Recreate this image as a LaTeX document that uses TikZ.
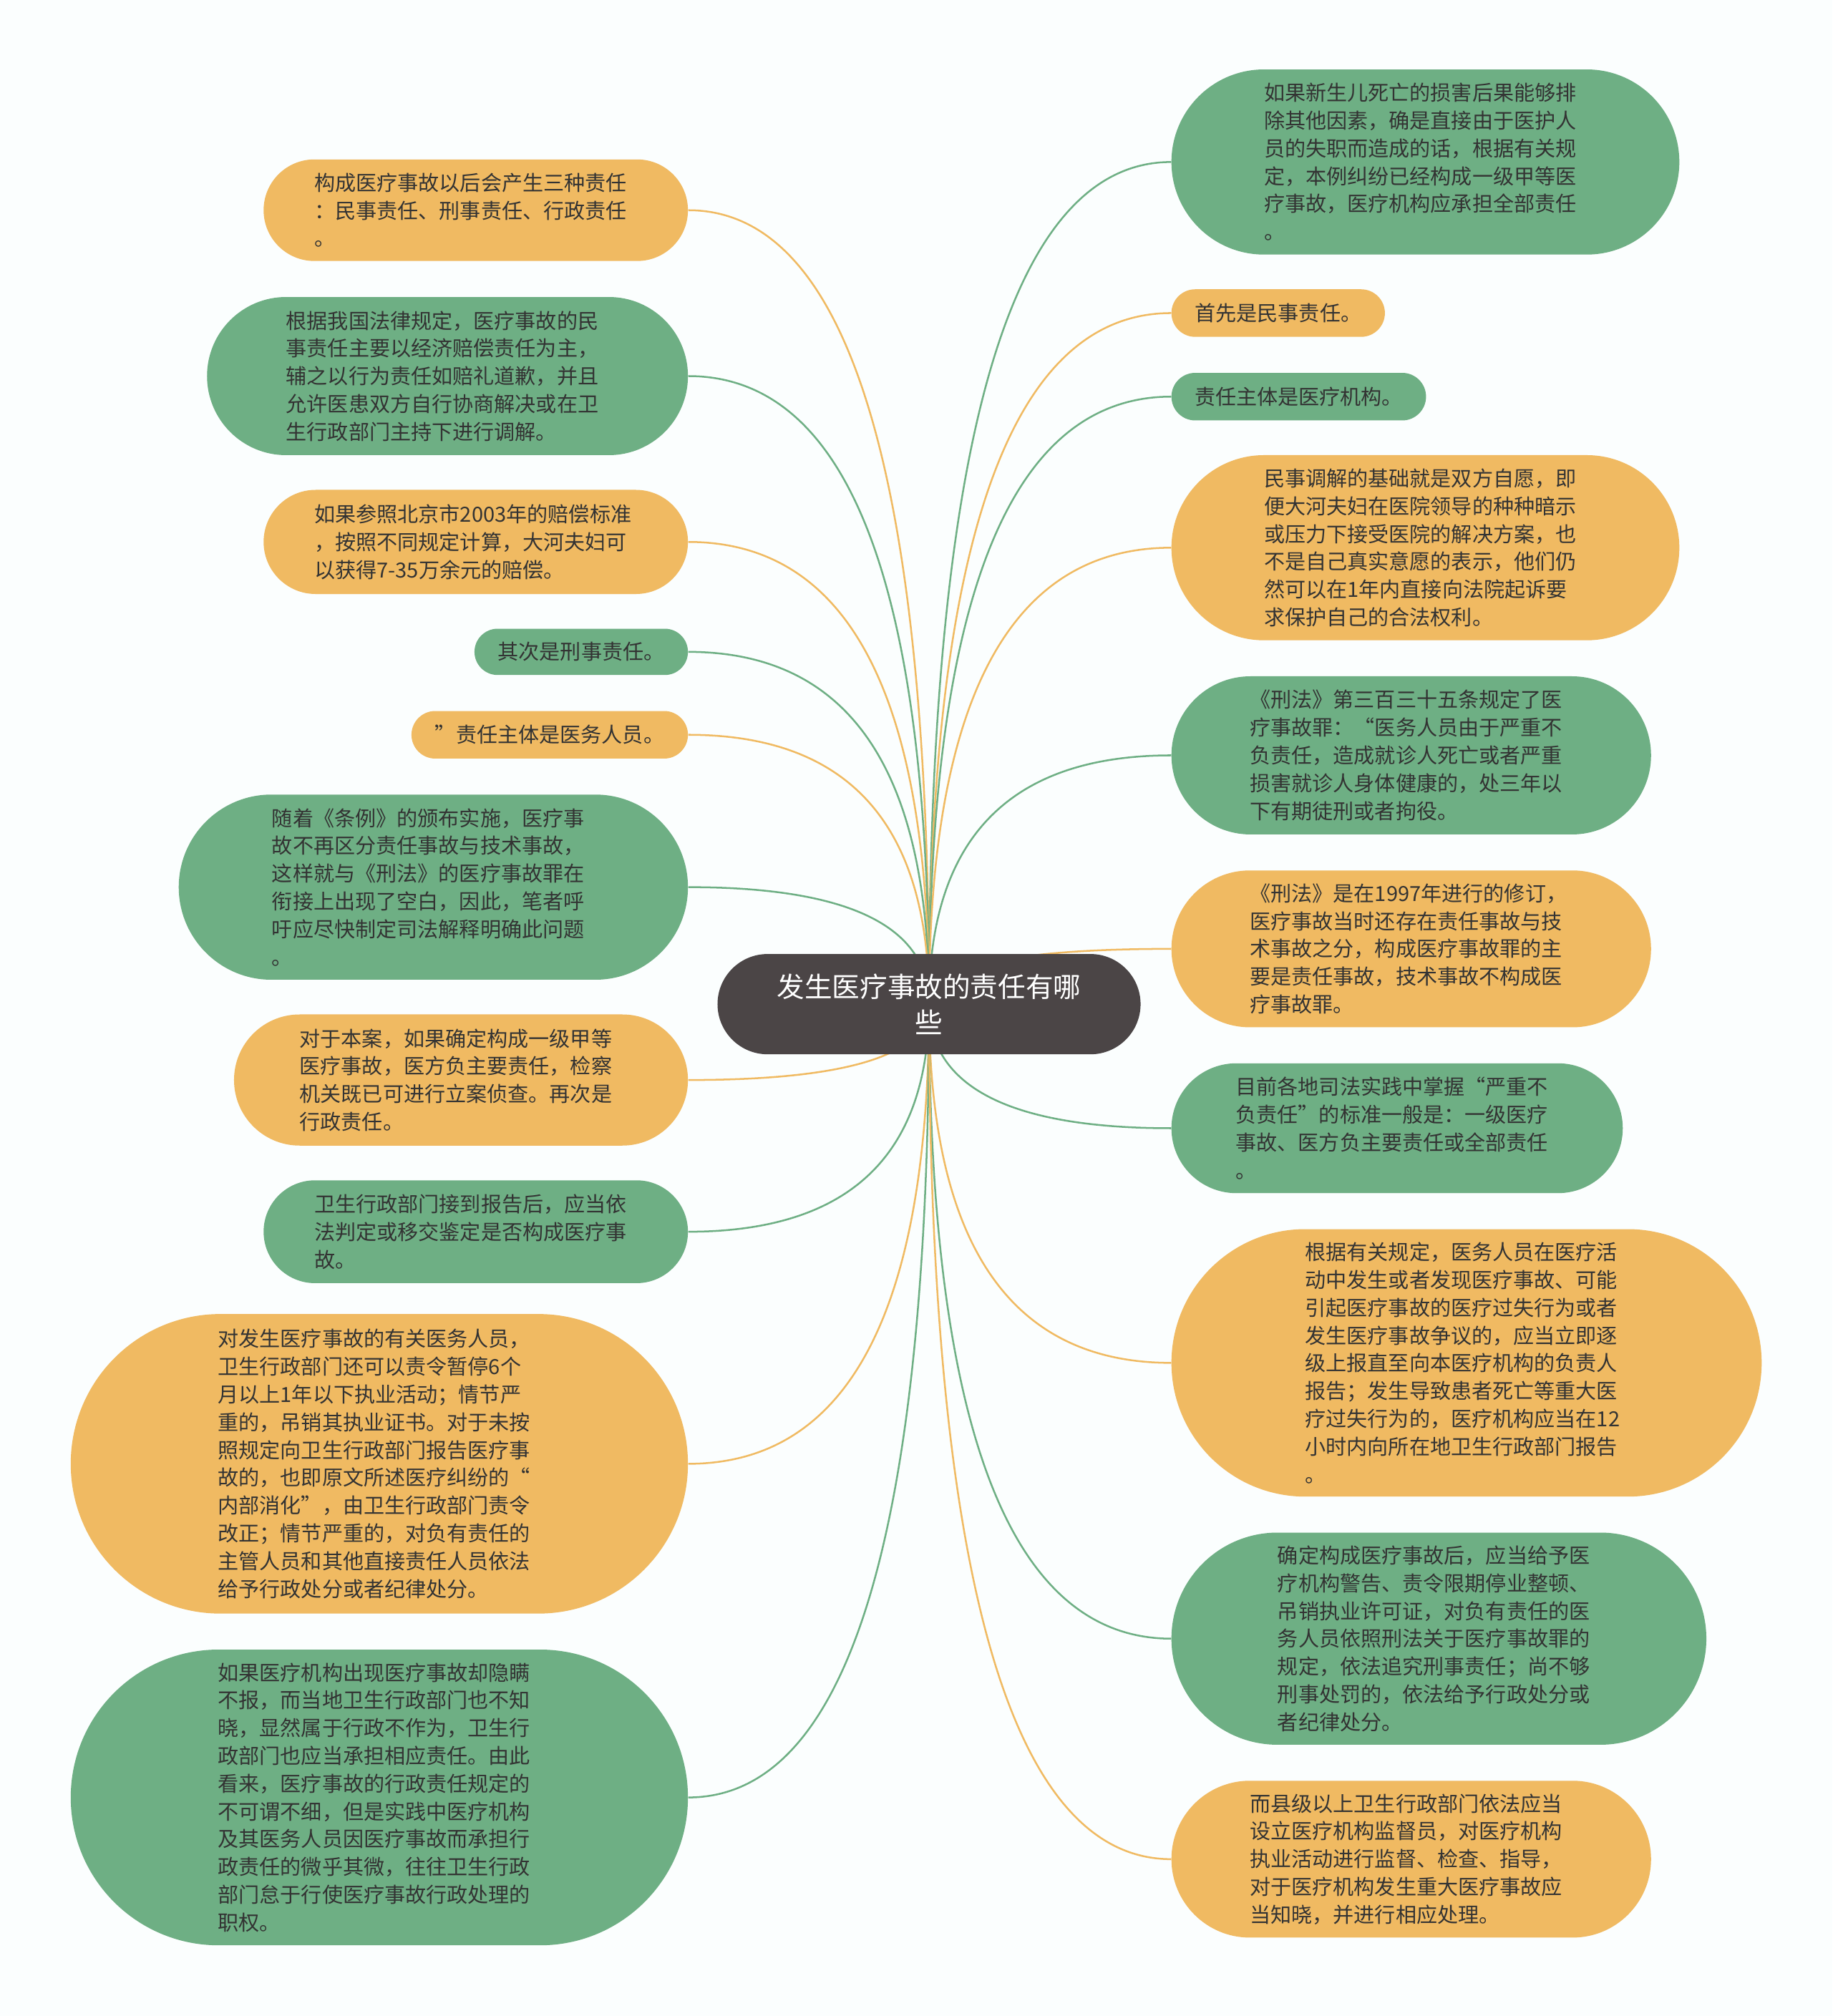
\documentclass[tikz,border=0pt]{standalone}
\usepackage{fontspec}
\newfontfamily\cjk{Noto Sans CJK SC}
\usetikzlibrary{shapes.misc,calc,backgrounds}
\definecolor{orn}{HTML}{F0BA62}
\definecolor{grn}{HTML}{6EAF84}
\definecolor{dk}{HTML}{4B4546}
\definecolor{bgc}{HTML}{FBFEFE}
\definecolor{txt}{HTML}{333333}
\tikzset{
  leaf/.style={rounded rectangle, inner sep=0pt, align=left, text=txt,
    font=\cjk\fontsize{16.2}{21.6}\selectfont},
  wide/.style={text width=251pt},
  obox/.style={leaf, fill=orn},
  gbox/.style={leaf, fill=grn},
  root/.style={rounded rectangle, inner sep=0pt, align=center, fill=dk, text=white,
    font=\cjk\fontsize{21.5}{28}\selectfont},
  conn/.style={line width=1.4pt}
}
\begin{document}
\begin{tikzpicture}[x=1pt,y=-1pt]
\useasboundingbox (0,0) rectangle (1425,1568);
% centre
\node[root, minimum width=329, minimum height=78] (C) at (722.5,781) {发生医疗事故的责任有哪\\些};
% left side
\node[obox, wide, minimum width=330, minimum height=79] (L1) at (370,163.5) {构成医疗事故以后会产生三种责任\\：民事责任、刑事责任、行政责任\\。};
\node[gbox, wide, minimum width=374, minimum height=123] (L2) at (348,292.5) {根据我国法律规定，医疗事故的民\\事责任主要以经济赔偿责任为主，\\辅之以行为责任如赔礼道歉，并且\\允许医患双方自行协商解决或在卫\\生行政部门主持下进行调解。};
\node[obox, wide, minimum width=330, minimum height=81] (L3) at (370,421.5) {如果参照北京市2003年的赔偿标准\\，按照不同规定计算，大河夫妇可\\以获得7-35万余元的赔偿。};
\node[gbox, minimum width=166, minimum height=36] (L4) at (452,507) {其次是刑事责任。};
\node[obox, minimum width=215, minimum height=37] (L5) at (427.5,571.5) {”责任主体是医务人员。};
\node[gbox, wide, minimum width=396, minimum height=144] (L6) at (337,690) {随着《条例》的颁布实施，医疗事\\故不再区分责任事故与技术事故，\\这样就与《刑法》的医疗事故罪在\\衔接上出现了空白，因此，笔者呼\\吁应尽快制定司法解释明确此问题\\。};
\node[obox, wide, minimum width=353, minimum height=102] (L7) at (358.5,840) {对于本案，如果确定构成一级甲等\\医疗事故，医方负主要责任，检察\\机关既已可进行立案侦查。再次是\\行政责任。};
\node[gbox, wide, minimum width=330, minimum height=80] (L8) at (370,958) {卫生行政部门接到报告后，应当依\\法判定或移交鉴定是否构成医疗事\\故。};
\node[obox, wide, minimum width=480, minimum height=233] (L9) at (295,1138.5) {对发生医疗事故的有关医务人员，\\卫生行政部门还可以责令暂停6个\\月以上1年以下执业活动；情节严\\重的，吊销其执业证书。对于未按\\照规定向卫生行政部门报告医疗事\\故的，也即原文所述医疗纠纷的“\\内部消化”，由卫生行政部门责令\\改正；情节严重的，对负有责任的\\主管人员和其他直接责任人员依法\\给予行政处分或者纪律处分。};
\node[gbox, wide, minimum width=480, minimum height=230] (L10) at (295,1398) {如果医疗机构出现医疗事故却隐瞒\\不报，而当地卫生行政部门也不知\\晓，显然属于行政不作为，卫生行\\政部门也应当承担相应责任。由此\\看来，医疗事故的行政责任规定的\\不可谓不细，但是实践中医疗机构\\及其医务人员因医疗事故而承担行\\政责任的微乎其微，往往卫生行政\\部门怠于行使医疗事故行政处理的\\职权。};
% right side
\node[gbox, wide, minimum width=395, minimum height=144] (R1) at (1108.5,126) {如果新生儿死亡的损害后果能够排\\除其他因素，确是直接由于医护人\\员的失职而造成的话，根据有关规\\定，本例纠纷已经构成一级甲等医\\疗事故，医疗机构应承担全部责任\\。};
\node[obox, minimum width=166, minimum height=37] (R2) at (994,243.5) {首先是民事责任。};
\node[gbox, minimum width=198, minimum height=37] (R3) at (1010,308.5) {责任主体是医疗机构。};
\node[obox, wide, minimum width=395, minimum height=144] (R4) at (1108.5,426) {民事调解的基础就是双方自愿，即\\便大河夫妇在医院领导的种种暗示\\或压力下接受医院的解决方案，也\\不是自己真实意愿的表示，他们仍\\然可以在1年内直接向法院起诉要\\求保护自己的合法权利。};
\node[gbox, wide, minimum width=373, minimum height=123] (R5) at (1097.5,587.5) {《刑法》第三百三十五条规定了医\\疗事故罪：“医务人员由于严重不\\负责任，造成就诊人死亡或者严重\\损害就诊人身体健康的，处三年以\\下有期徒刑或者拘役。};
\node[obox, wide, minimum width=373, minimum height=122] (R6) at (1097.5,738) {《刑法》是在1997年进行的修订，\\医疗事故当时还存在责任事故与技\\术事故之分，构成医疗事故罪的主\\要是责任事故，技术事故不构成医\\疗事故罪。};
\node[gbox, wide, minimum width=351, minimum height=101] (R7) at (1086.5,877.5) {目前各地司法实践中掌握“严重不\\负责任”的标准一般是：一级医疗\\事故、医方负主要责任或全部责任\\。};
\node[obox, wide, minimum width=459, minimum height=208] (R8) at (1140.5,1060) {根据有关规定，医务人员在医疗活\\动中发生或者发现医疗事故、可能\\引起医疗事故的医疗过失行为或者\\发生医疗事故争议的，应当立即逐\\级上报直至向本医疗机构的负责人\\报告；发生导致患者死亡等重大医\\疗过失行为的，医疗机构应当在12\\小时内向所在地卫生行政部门报告\\。};
\node[gbox, wide, minimum width=416, minimum height=165] (R9) at (1119,1274.5) {确定构成医疗事故后，应当给予医\\疗机构警告、责令限期停业整顿、\\吊销执业许可证，对负有责任的医\\务人员依照刑法关于医疗事故罪的\\规定，依法追究刑事责任；尚不够\\刑事处罚的，依法给予行政处分或\\者纪律处分。};
\node[obox, wide, minimum width=373, minimum height=122] (R10) at (1097.5,1446) {而县级以上卫生行政部门依法应当\\设立医疗机构监督员，对医疗机构\\执业活动进行监督、检查、指导，\\对于医疗机构发生重大医疗事故应\\当知晓，并进行相应处理。};
% connectors
\begin{scope}[on background layer]
\fill[bgc] (0,0) rectangle (1425,1568);
\foreach \n/\c in {L1/orn,L2/grn,L3/orn,L4/grn,L5/orn,L6/grn,L7/orn,L8/grn,L9/orn,L10/grn}{
  \draw[conn, draw=\c] (C.center) .. controls ($(C.center)!0.6667!(C.center |- \n.east)$) and ($(\n.east)!0.6667!(C.center |- \n.east)$) .. (\n.east);
}
\foreach \n/\c in {R1/grn,R2/orn,R3/grn,R4/orn,R5/grn,R6/orn,R7/grn,R8/orn,R9/grn,R10/orn}{
  \draw[conn, draw=\c] (C.center) .. controls ($(C.center)!0.6667!(C.center |- \n.west)$) and ($(\n.west)!0.6667!(C.center |- \n.west)$) .. (\n.west);
}
\end{scope}
\end{tikzpicture}
\end{document}
